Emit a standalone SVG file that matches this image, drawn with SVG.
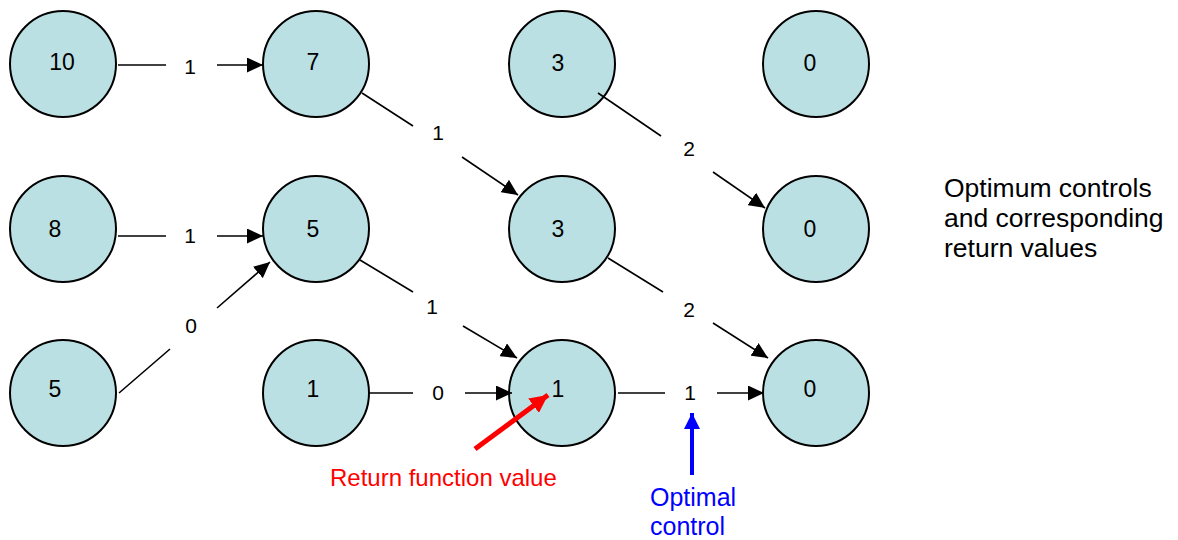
<svg xmlns="http://www.w3.org/2000/svg" width="1178" height="540" viewBox="0 0 1178 540">
<defs>
<style>
.node circle{fill:#BBE0E3;stroke:#000;stroke-width:2}
.node text{font-family:"Liberation Sans",Arial,sans-serif;font-size:23px;text-anchor:middle;fill:#000}
.edge line{stroke:#000;stroke-width:1.6}
.lbl{font-family:"Liberation Sans",Arial,sans-serif;font-size:21px;text-anchor:middle;fill:#000}
.note{font-family:"Liberation Sans",Arial,sans-serif;font-size:26.5px;fill:#000}
</style>
<marker id="ah" viewBox="0 0 16 15" refX="16" refY="7.5" markerWidth="16" markerHeight="15" markerUnits="userSpaceOnUse" orient="auto"><path d="M0,0 L16,7.5 L0,15 z" fill="#000"/></marker>
<marker id="ahr" viewBox="0 0 18 18" refX="18" refY="9" markerWidth="18" markerHeight="18" markerUnits="userSpaceOnUse" orient="auto"><path d="M0,0 L18,9 L0,18 z" fill="#FF0000"/></marker>
<marker id="ahb" viewBox="0 0 16 16" refX="16" refY="8" markerWidth="16" markerHeight="16" markerUnits="userSpaceOnUse" orient="auto"><path d="M0,0 L16,8 L0,16 z" fill="#0000FF"/></marker>
</defs>
<rect width="1178" height="540" fill="#fff"/>
<g id="nodes">
<g id="n10" class="node"><circle cx="63" cy="64" r="53"/><text x="62" y="70">10</text></g>
<g id="n7" class="node"><circle cx="316" cy="64" r="53"/><text x="313" y="70">7</text></g>
<g id="n3a" class="node"><circle cx="562" cy="64" r="53"/><text x="558" y="71">3</text></g>
<g id="n0a" class="node"><circle cx="816" cy="64" r="53"/><text x="810" y="71">0</text></g>
<g id="n8" class="node"><circle cx="63" cy="229" r="53"/><text x="55" y="237">8</text></g>
<g id="n5a" class="node"><circle cx="316" cy="229" r="53"/><text x="313" y="237">5</text></g>
<g id="n3b" class="node"><circle cx="562" cy="229" r="53"/><text x="558" y="237">3</text></g>
<g id="n0b" class="node"><circle cx="816" cy="229" r="53"/><text x="810" y="237">0</text></g>
<g id="n5b" class="node"><circle cx="63" cy="393" r="53"/><text x="55" y="397">5</text></g>
<g id="n1a" class="node"><circle cx="316" cy="393" r="53"/><text x="313" y="397">1</text></g>
<g id="n1b" class="node"><circle cx="562" cy="393" r="53"/><text x="558" y="397">1</text></g>
<g id="n0c" class="node"><circle cx="816" cy="393" r="53"/><text x="810" y="397">0</text></g>
</g>
<g id="connectors" class="edge">
<line x1="118" y1="65" x2="166" y2="65"/><line x1="217" y1="65" x2="263" y2="65" marker-end="url(#ah)"/>
<text class="lbl" x="190" y="74">1</text>
<line x1="362" y1="93" x2="413" y2="126"/><line x1="462" y1="157" x2="518" y2="195" marker-end="url(#ah)"/>
<text class="lbl" x="438" y="140">1</text>
<line x1="598" y1="93" x2="661" y2="136"/><line x1="713" y1="172" x2="765" y2="208" marker-end="url(#ah)"/>
<text class="lbl" x="689" y="156">2</text>
<line x1="118" y1="236" x2="166" y2="236"/><line x1="217" y1="236" x2="263" y2="236" marker-end="url(#ah)"/>
<text class="lbl" x="190" y="243">1</text>
<line x1="119" y1="393" x2="170" y2="349"/><line x1="217" y1="308" x2="270" y2="262" marker-end="url(#ah)"/>
<text class="lbl" x="191" y="333">0</text>
<line x1="360" y1="260" x2="413" y2="292"/><line x1="463" y1="326" x2="517" y2="358" marker-end="url(#ah)"/>
<text class="lbl" x="432" y="314">1</text>
<line x1="608" y1="258" x2="663" y2="292"/><line x1="713" y1="323" x2="768" y2="358" marker-end="url(#ah)"/>
<text class="lbl" x="689" y="317">2</text>
<line x1="369" y1="393" x2="413" y2="393"/><line x1="465" y1="393" x2="512" y2="393" marker-end="url(#ah)"/>
<text class="lbl" x="438" y="400">0</text>
<line x1="618" y1="393" x2="665" y2="393"/><line x1="717" y1="393" x2="764" y2="393" marker-end="url(#ah)"/>
<text class="lbl" x="690" y="400">1</text>
</g>
<g id="annotations">
<line x1="475" y1="449" x2="548" y2="395" stroke="#FF0000" stroke-width="5" marker-end="url(#ahr)"/>
<text x="330" y="486" font-family="Liberation Sans, Arial, sans-serif" font-size="24" fill="#FF0000">Return function value</text>
<line x1="692" y1="475" x2="692" y2="413" stroke="#0000FF" stroke-width="4" marker-end="url(#ahb)"/>
<text x="650" y="506" font-family="Liberation Sans, Arial, sans-serif" font-size="25" fill="#0000FF">Optimal</text>
<text x="650" y="535" font-family="Liberation Sans, Arial, sans-serif" font-size="25" fill="#0000FF">control</text>
<text class="note" x="944" y="197">Optimum controls</text>
<text class="note" x="944" y="227">and corresponding</text>
<text class="note" x="944" y="257">return values</text>
</g>
</svg>
